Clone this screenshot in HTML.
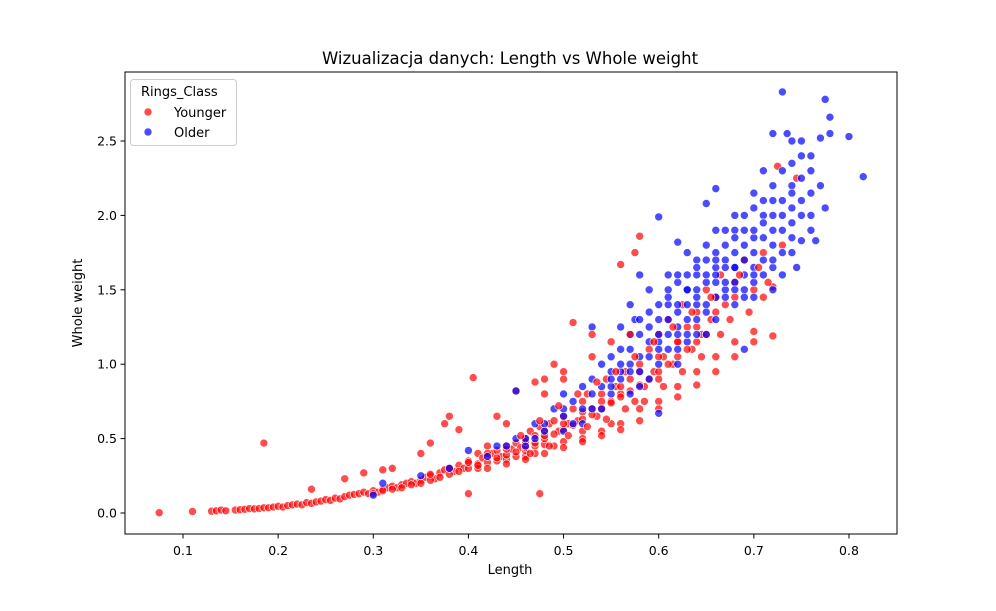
<!DOCTYPE html>
<html><head><meta charset="utf-8"><style>
body{margin:0;background:#fff;font-family:"Liberation Sans","DejaVu Sans",sans-serif}
svg text{font-family:"DejaVu Sans","Liberation Sans",sans-serif;fill:#000}
</style></head><body>
<svg id="chart" width="996" height="606">
<rect width="996" height="606" fill="#fff"/>
<text x="510" y="64" font-size="16.5" text-anchor="middle">Wizualizacja danych: Length vs Whole weight</text>
<g id="marks"></g>
<rect x="125" y="72" width="772" height="462" fill="none" stroke="#000" stroke-width="1"/>
<g id="xticks"></g><g id="yticks"></g>
<text x="510" y="574" font-size="13" text-anchor="middle">Length</text>
<text transform="translate(82,303) rotate(-90)" font-size="13" text-anchor="middle">Whole weight</text>
<g>
<rect x="130.5" y="79.5" width="106" height="66" rx="3" fill="#fff" fill-opacity="0.8" stroke="#ccc"/>
<text x="141" y="96" font-size="13">Rings_Class</text>
<g><circle cx="148" cy="112" r="4" fill="#ff0000" fill-opacity="0.7" stroke="#fff" stroke-width="0.6"/><text x="174" y="117" font-size="13">Younger</text></g>
<g><circle cx="148" cy="132" r="4" fill="#0000ff" fill-opacity="0.7" stroke="#fff" stroke-width="0.6"/><text x="174" y="137" font-size="13">Older</text></g>
</g>
</svg>
<script>
const xTicks=[0.1,0.2,0.3,0.4,0.5,0.6,0.7,0.8];
const yTicks=[0.0,0.5,1.0,1.5,2.0,2.5];
const youngerLength=[0.075,0.11,0.13,0.135,0.14,0.145,0.155,0.16,0.165,0.17,0.175,0.18,0.185,0.185,0.19,0.195,0.2,0.205,0.21,0.215,0.22,0.225,0.23,0.235,0.235,0.24,0.245,0.25,0.255,0.26,0.265,0.27,0.27,0.275,0.28,0.285,0.29,0.29,0.295,0.3,0.305,0.31,0.31,0.315,0.32,0.32,0.325,0.33,0.335,0.34,0.345,0.35,0.35,0.355,0.36,0.36,0.365,0.37,0.375,0.375,0.38,0.38,0.385,0.39,0.39,0.395,0.4,0.4,0.405,0.41,0.41,0.415,0.42,0.42,0.425,0.43,0.43,0.435,0.44,0.44,0.445,0.45,0.45,0.455,0.46,0.46,0.465,0.47,0.47,0.475,0.475,0.48,0.48,0.485,0.49,0.49,0.495,0.5,0.5,0.505,0.51,0.51,0.515,0.52,0.52,0.525,0.53,0.53,0.535,0.54,0.545,0.55,0.55,0.555,0.56,0.56,0.565,0.57,0.575,0.575,0.58,0.58,0.585,0.59,0.595,0.6,0.6,0.605,0.61,0.615,0.62,0.625,0.63,0.635,0.64,0.645,0.65,0.655,0.66,0.665,0.67,0.68,0.69,0.7,0.71,0.72,0.72,0.725,0.73,0.745,0.71,0.41,0.43,0.45,0.47,0.49,0.5,0.52,0.54,0.56,0.58,0.6,0.62,0.64,0.66,0.68,0.44,0.46,0.48,
0.3,0.31,0.32,0.33,0.34,0.35,0.36,0.37,0.38,0.39,0.4,0.41,0.42,0.43,0.44,0.45,0.46,0.47,0.48,0.49,0.5,0.51,0.52,0.53,0.54,0.55,0.56,0.57,0.58,0.59,0.6,0.61,0.62,0.63,0.64,0.65,
0.36,0.38,0.4,0.42,0.44,0.46,0.48,0.5,0.52,0.54,0.56,0.58,0.6,0.62,0.64,0.66,0.68,0.7,
0.42,0.44,0.46,0.48,0.5,0.52,0.54,0.56,0.58,0.6,0.62,0.64,0.66,0.68,0.7];
const youngerWeight=[0.002,0.01,0.012,0.015,0.02,0.015,0.02,0.022,0.025,0.03,0.028,0.03,0.035,0.47,0.035,0.04,0.045,0.04,0.05,0.055,0.06,0.055,0.07,0.16,0.065,0.075,0.08,0.09,0.085,0.1,0.095,0.11,0.23,0.12,0.125,0.13,0.14,0.27,0.13,0.15,0.14,0.16,0.29,0.17,0.3,0.18,0.17,0.19,0.2,0.21,0.2,0.22,0.4,0.24,0.25,0.47,0.23,0.27,0.29,0.6,0.3,0.65,0.28,0.32,0.56,0.3,0.35,0.13,0.91,0.33,0.4,0.37,0.38,0.45,0.4,0.42,0.65,0.38,0.45,0.6,0.43,0.47,0.82,0.44,0.5,0.38,0.55,0.52,0.45,0.13,0.58,0.55,0.8,0.6,0.62,1.0,0.55,0.65,0.9,0.6,0.7,1.28,0.62,0.75,0.55,0.8,0.7,1.05,0.65,0.8,0.9,0.75,0.6,0.85,1.67,0.8,0.95,0.9,0.75,1.75,1.86,1.0,0.85,1.1,0.95,1.2,0.9,1.05,1.3,1.0,1.15,1.4,1.25,1.1,1.35,1.2,1.5,1.3,1.45,1.6,1.4,1.55,1.7,1.22,1.75,1.19,1.52,2.33,1.8,2.25,1.45,0.3,0.35,0.38,0.4,0.45,0.48,0.5,0.55,0.6,0.7,0.75,0.85,0.95,1.05,1.15,0.36,0.42,0.46,
0.13,0.15,0.16,0.17,0.19,0.2,0.22,0.24,0.26,0.28,0.3,0.32,0.34,0.37,0.39,0.41,0.44,0.47,0.5,0.53,0.56,0.59,0.63,0.66,0.7,0.74,0.78,0.82,0.86,0.9,0.95,1.0,1.05,1.1,1.15,1.2,
0.26,0.3,0.34,0.4,0.43,0.48,0.52,0.6,0.68,0.75,0.85,0.95,1.05,1.15,1.25,1.35,1.45,1.5,
0.3,0.33,0.36,0.4,0.44,0.48,0.52,0.56,0.62,0.7,0.78,0.86,0.95,1.05,1.15];
const olderLength=[0.3,0.31,0.35,0.38,0.4,0.42,0.44,0.45,0.46,0.47,0.48,0.49,0.5,0.5,0.51,0.52,0.52,0.53,0.53,0.54,0.54,0.55,0.55,0.56,0.56,0.57,0.57,0.575,0.58,0.58,0.59,0.59,0.6,0.6,0.6,0.61,0.61,0.6,0.62,0.62,0.63,0.63,0.63,0.64,0.64,0.65,0.65,0.65,0.66,0.66,0.66,0.67,0.67,0.68,0.68,0.68,0.69,0.69,0.69,0.7,0.7,0.7,0.71,0.71,0.71,0.72,0.72,0.72,0.73,0.73,0.73,0.735,0.74,0.74,0.74,0.75,0.75,0.75,0.76,0.76,0.765,0.77,0.77,0.775,0.78,0.78,0.775,0.8,0.815,0.745,0.73,0.62,0.56,0.58,0.59,0.65,0.67,0.68,0.69,0.64,0.61,0.62,0.66,0.7,0.72,0.53,0.51,0.55,0.57,0.63,
0.55,0.56,0.57,0.58,0.59,0.6,0.61,0.62,0.63,0.64,0.65,0.66,0.67,0.68,0.69,0.7,0.71,0.72,0.73,0.74,0.75,0.76,
0.6,0.61,0.62,0.63,0.64,0.65,0.66,0.67,0.68,0.69,0.7,0.71,0.72,0.73,0.74,0.75,0.76,
0.58,0.6,0.62,0.64,0.66,0.68,0.7,0.72,0.74,0.76,
0.52,0.53,0.54,0.55,0.56,0.57,0.58,0.59,0.6,0.61,0.62,0.63,0.64,0.65,0.66,0.67,0.68,0.69,0.7,0.71,0.72,0.73,0.74,0.75,
0.48,0.5,0.5,0.47,0.46,0.45,0.43,0.62,0.64,0.66,0.68,0.7,0.72,0.74,0.57,0.59,0.61,0.63,0.65,0.67,0.69,0.71];
const olderWeight=[0.12,0.2,0.25,0.3,0.42,0.38,0.45,0.82,0.5,0.6,0.55,0.7,0.65,0.8,0.75,0.85,0.6,0.9,1.25,0.7,1.0,0.95,0.8,1.1,0.9,1.0,1.4,1.3,1.2,0.85,1.15,1.5,1.3,1.0,0.67,1.2,1.6,1.99,1.4,1.1,1.5,1.3,1.75,1.6,1.2,1.4,1.7,2.08,1.55,1.3,2.18,1.8,1.5,1.65,1.9,1.4,1.7,2.0,1.1,1.85,1.55,2.15,2.0,1.7,2.3,1.9,2.1,2.55,2.0,2.83,1.75,2.55,2.2,2.5,1.95,2.1,2.5,1.83,2.0,2.4,1.83,2.2,2.52,2.78,2.66,2.55,2.05,2.53,2.26,1.65,1.6,1.82,1.25,1.6,0.9,1.2,1.7,2.0,1.5,1.4,1.4,1.0,1.9,1.75,1.65,0.7,0.6,1.05,0.8,1.15,
0.85,0.95,1.1,1.05,1.25,1.15,1.3,1.25,1.4,1.45,1.55,1.6,1.65,1.75,1.8,1.9,1.95,2.0,2.1,2.15,2.25,2.3,
1.4,1.5,1.55,1.6,1.7,1.8,1.75,1.9,1.55,1.6,1.65,1.85,1.8,1.9,2.05,2.0,2.15,
1.3,1.1,1.2,1.3,1.45,1.5,1.45,1.5,1.75,1.9,
0.7,0.8,0.85,0.9,1.0,0.95,0.95,1.05,1.2,1.1,1.35,1.2,1.5,1.6,1.65,1.55,1.85,1.9,2.05,2.1,2.2,2.3,2.35,2.4,
0.6,0.7,0.55,0.5,0.45,0.5,0.45,1.6,1.65,1.7,1.65,1.6,1.7,1.85,1.2,1.35,1.45,1.5,1.35,1.45,1.45,1.6];
const youngerTopLength=[0.455,0.465,0.475,0.485,0.495,0.505,0.515,0.525,0.535,0.545,0.555,0.565,0.575,0.585,0.595,0.605,0.615,0.625,0.635,0.645,0.655,0.665,0.675,0.685,0.695,0.705,0.715,0.53,0.55,0.57,0.5,0.48,0.47];
const youngerTopWeight=[0.52,0.4,0.62,0.45,0.72,0.52,0.8,0.58,0.88,0.63,0.95,0.7,1.05,0.75,1.15,0.85,1.25,0.95,1.35,1.05,1.45,1.2,1.3,1.6,1.35,1.65,1.55,1.2,1.15,1.2,0.95,0.9,0.88];
const NS='http://www.w3.org/2000/svg';
function xScale(v){return 87.86+v*951.4;}
function yScale(v){return 513-v*148.8;}
const marks=document.getElementById('marks');
function dot(l,w,color,name){
  const c=document.createElementNS(NS,'circle');
  c.setAttribute('cx',xScale(l));c.setAttribute('cy',yScale(w));c.setAttribute('r',4);
  c.setAttribute('fill',color);c.setAttribute('fill-opacity',0.7);
  c.setAttribute('stroke','#fff');c.setAttribute('stroke-width',0.6);
  
  
  marks.appendChild(c);
}
youngerLength.forEach((l,i)=>dot(l,youngerWeight[i],'#ff0000','point-younger'));
olderLength.forEach((l,i)=>dot(l,olderWeight[i],'#0000ff','point-older'));
youngerTopLength.forEach((l,i)=>dot(l,youngerTopWeight[i],'#ff0000','point-younger'));
const xt=document.getElementById('xticks');
xTicks.forEach(t=>{
  const x=xScale(t);
  const ln=document.createElementNS(NS,'line');
  ln.setAttribute('x1',x);ln.setAttribute('x2',x);ln.setAttribute('y1',534);ln.setAttribute('y2',538.5);ln.setAttribute('stroke','#000');
  
  
  xt.appendChild(ln);
  const tx=document.createElementNS(NS,'text');
  tx.setAttribute('x',x);tx.setAttribute('y',555);tx.setAttribute('font-size','12.5');tx.setAttribute('text-anchor','middle');
  tx.textContent=t.toFixed(1);
  
  
  xt.appendChild(tx);
});
const yt=document.getElementById('yticks');
yTicks.forEach(t=>{
  const y=yScale(t);
  const ln=document.createElementNS(NS,'line');
  ln.setAttribute('x1',120.5);ln.setAttribute('x2',125);ln.setAttribute('y1',y);ln.setAttribute('y2',y);ln.setAttribute('stroke','#000');
  
  
  yt.appendChild(ln);
  const tx=document.createElementNS(NS,'text');
  tx.setAttribute('x',117);tx.setAttribute('y',y+4.5);tx.setAttribute('font-size','12.5');tx.setAttribute('text-anchor','end');
  tx.textContent=t.toFixed(1);
  
  
  yt.appendChild(tx);
});
</script>
</body></html>
